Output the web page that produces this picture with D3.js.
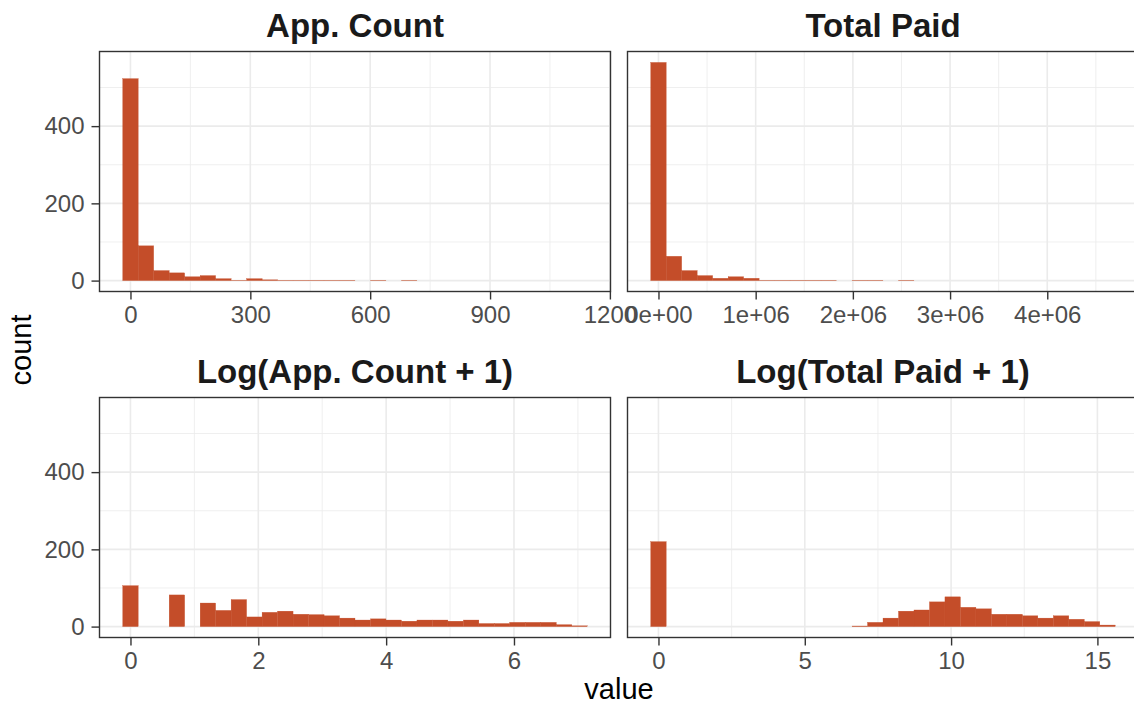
<!DOCTYPE html>
<html><head><meta charset="utf-8">
<script src="https://cdn.jsdelivr.net/npm/d3@7"></script>
<style>body{margin:0;background:#fff} svg{display:block}</style>
</head><body>
<svg id="chart" width="1134" height="704"></svg>
<script>
// ---------------- data ----------------
const panelTitles = ["App. Count", "Total Paid", "Log(App. Count + 1)", "Log(Total Paid + 1)"];
// largest observed value in each panel (smallest is 0); 30 bins centred on 0
const panelMax = [1124, 4620000, Math.log(1125), Math.log(4620001)];
const appCountBins = [523, 90, 26, 20, 10, 13, 5, 1, 5, 2, 1, 1, 1, 1, 1, 0, 1, 0, 1, 0, 0, 0, 0, 0, 0, 0, 0, 0, 0, 0];
const totalPaidBins = [565, 63, 26, 13, 6, 10, 6, 1, 1, 1, 1, 1, 0, 1, 1, 0, 1, 0, 0, 0, 0, 0, 0, 0, 0, 0, 0, 0, 0, 0];
const logAppCountBins = [106, 0, 0, 82, 0, 61, 42, 70, 25, 37, 40, 32, 31, 28, 22, 17, 20, 17, 14, 17, 17, 14, 17, 8, 8, 11, 11, 11, 5, 2];
const logTotalPaidBins = [220, 0, 0, 0, 0, 0, 0, 0, 0, 0, 0, 0, 0, 1.5, 11, 22, 40, 43, 64, 77, 50, 46, 32, 32, 28, 22, 28, 19, 13, 4];
const xTicksApp = [0, 300, 600, 900, 1200];
const xLabelsApp = ["0", "300", "600", "900", "1200"];
const xTicksPaid = [0, 1e6, 2e6, 3e6, 4e6];
const xLabelsPaid = ["0e+00", "1e+06", "2e+06", "3e+06", "4e+06"];
const xTicksLogApp = [0, 2, 4, 6];
const xLabelsLogApp = ["0", "2", "4", "6"];
const xTicksLogPaid = [0, 5, 10, 15];
const xLabelsLogPaid = ["0", "5", "10", "15"];
const yTicks = [0, 200, 400];
const yLabels = ["0", "200", "400"];
const xTitle = "value", yTitle = "count";

// ---------------- layout ----------------
const FONT = "'Liberation Sans', Arial, sans-serif";
const barColor = "#C44D29";
const panelW = 511, panelH = 240;
const colX = [99.5, 627.5], rowY = [51.5, 397.5];

const panels = [
  {bins: appCountBins, max: panelMax[0], ticks: xTicksApp, labels: xLabelsApp},
  {bins: totalPaidBins, max: panelMax[1], ticks: xTicksPaid, labels: xLabelsPaid},
  {bins: logAppCountBins, max: panelMax[2], ticks: xTicksLogApp, labels: xLabelsLogApp},
  {bins: logTotalPaidBins, max: panelMax[3], ticks: xTicksLogPaid, labels: xLabelsLogPaid}
];

const svg = d3.select("#chart");
svg.append("rect").attr("width", 1134).attr("height", 704).attr("fill", "#fff");

const yMax = d3.max(panels, p => d3.max(p.bins));
const y = d3.scaleLinear().domain([-0.05 * yMax, 1.05 * yMax]).range([panelH, 0]);

panels.forEach((p, idx) => {
  const col = idx % 2, row = Math.floor(idx / 2);
  const g = svg.append("g").attr("transform", `translate(${colX[col]},${rowY[row]})`);
  const n = p.bins.length;
  const w = p.max / (n - 1);
  const lo = -w / 2, hi = p.max + w / 2, R = hi - lo;
  const x = d3.scaleLinear().domain([lo - 0.05 * R, hi + 0.05 * R]).range([0, panelW]);

  const clipId = "clip" + idx;
  g.append("clipPath").attr("id", clipId).append("rect").attr("width", panelW).attr("height", panelH);
  const inner = g.append("g").attr("clip-path", `url(#${clipId})`);

  // minor grid
  const step = p.ticks[1] - p.ticks[0];
  const xMinor = d3.range(p.ticks[0] - step / 2, x.domain()[1], step).filter(v => v > x.domain()[0]);
  const yStep = yTicks[1] - yTicks[0];
  const yMinor = d3.range(yTicks[0] - yStep / 2, y.domain()[1], yStep).filter(v => v > y.domain()[0]);
  inner.selectAll(".xminor").data(xMinor).join("line")
    .attr("x1", d => x(d)).attr("x2", d => x(d)).attr("y1", 0).attr("y2", panelH)
    .attr("stroke", "#EBEBEB").attr("stroke-width", 0.8);
  inner.selectAll(".yminor").data(yMinor).join("line")
    .attr("y1", d => y(d)).attr("y2", d => y(d)).attr("x1", 0).attr("x2", panelW)
    .attr("stroke", "#EBEBEB").attr("stroke-width", 0.8);
  // major grid
  inner.selectAll(".xmajor").data(p.ticks).join("line")
    .attr("x1", d => x(d)).attr("x2", d => x(d)).attr("y1", 0).attr("y2", panelH)
    .attr("stroke", "#EBEBEB").attr("stroke-width", 1.6);
  inner.selectAll(".ymajor").data(yTicks).join("line")
    .attr("y1", d => y(d)).attr("y2", d => y(d)).attr("x1", 0).attr("x2", panelW)
    .attr("stroke", "#EBEBEB").attr("stroke-width", 1.6);

  // bars
  const bars = p.bins.map((c, i) => ({x0: lo + i * w, x1: lo + (i + 1) * w, c})).filter(d => d.c > 0);
  inner.selectAll(".bar").data(bars).join("rect")
    .attr("x", d => x(d.x0)).attr("width", d => x(d.x1) - x(d.x0))
    .attr("y", d => y(d.c)).attr("height", d => y(0) - y(d.c))
    .attr("fill", barColor).attr("stroke", barColor).attr("stroke-width", 0.3);

  // border
  g.append("rect").attr("width", panelW).attr("height", panelH)
    .attr("fill", "none").attr("stroke", "#333333").attr("stroke-width", 1.4);

  // x axis
  const xa = g.append("g").attr("transform", `translate(0,${panelH})`)
    .call(d3.axisBottom(x).tickValues(p.ticks).tickFormat((d, i) => p.labels[i]).tickSize(8).tickPadding(6));
  xa.select(".domain").remove();
  xa.selectAll(".tick line").attr("stroke", "#333333").attr("stroke-width", 1.4);
  xa.selectAll(".tick text").attr("fill", "#4D4D4D").style("font-family", FONT).style("font-size", "24px");

  // y axis only on the left column (shared y, free x)
  if (col === 0) {
    const ya = g.append("g").call(d3.axisLeft(y).tickValues(yTicks).tickFormat((d, i) => yLabels[i]).tickSize(8).tickPadding(7));
    ya.select(".domain").remove();
    ya.selectAll(".tick line").attr("stroke", "#333333").attr("stroke-width", 1.4);
    ya.selectAll(".tick text").attr("fill", "#4D4D4D").style("font-family", FONT).style("font-size", "24px");
  }

  // strip title
  g.append("text").attr("x", panelW / 2).attr("y", -15).attr("text-anchor", "middle")
    .attr("fill", "#1A1A1A").style("font-family", FONT).style("font-size", "33px").style("font-weight", "bold")
    .text(panelTitles[idx]);
});

svg.append("text").attr("x", 619).attr("y", 699).attr("text-anchor", "middle")
  .style("font-family", FONT).style("font-size", "29px").attr("fill", "#000").text(xTitle);
svg.append("text").attr("transform", "translate(31,350) rotate(-90)").attr("text-anchor", "middle")
  .style("font-family", FONT).style("font-size", "29px").attr("fill", "#000").text(yTitle);
</script>
</body></html>
